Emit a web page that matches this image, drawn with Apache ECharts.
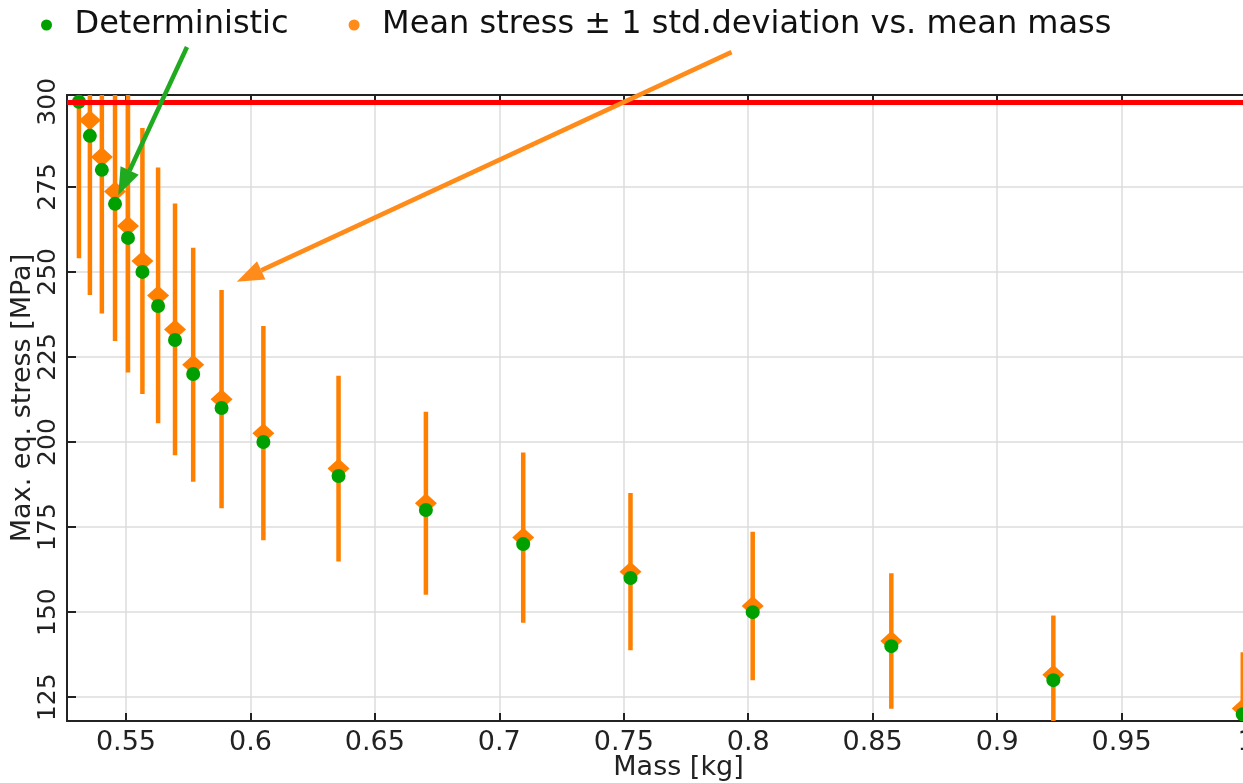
<!DOCTYPE html>
<html>
<head>
<meta charset="utf-8">
<script src="https://cdn.jsdelivr.net/npm/echarts@6/dist/echarts.min.js"></script>
<style>
  html, body { margin: 0; padding: 0; background: #fff; }
  #chart { width: 1243px; height: 783px; }
</style>
</head>
<body>
<div id="chart"></div>
<script>
// mass [kg] of each design
const mass = [0.5311, 0.5355, 0.5403, 0.5456, 0.5508, 0.5566, 0.5629, 0.5697, 0.5770, 0.5884,
  0.6052, 0.6354, 0.6705, 0.7096, 0.7527, 0.8018, 0.8575, 0.9226, 0.9987]
// deterministic max. eq. stress [MPa]
const detStress = [300, 290, 280, 270, 260, 250, 240, 230, 220, 210,
  200, 190, 180, 170, 160, 150, 140, 130, 120]
// mean stress and 1 std.deviation
const meanStress = [304, 294.6, 283.8, 273.6, 263.5, 253.2, 243.1, 233.1, 222.7, 212.6,
  202.6, 192.2, 182.0, 171.9, 161.9, 151.8, 141.5, 131.6, 121.7]
const stdStress = [50, 51.4, 46, 43.9, 43.1, 39.1, 37.6, 37, 34.4, 32.1,
  31.5, 27.3, 26.9, 25.0, 23.1, 21.8, 19.9, 17.4, 16.5]
// allowed stress
const stressLimit = 300
// tick labels
const xTicks = [0.55, 0.6, 0.65, 0.7, 0.75, 0.8, 0.85, 0.9, 0.95, 1]
const yTicks = [125, 150, 175, 200, 225, 250, 275, 300]
// annotation arrows [from, tip] in data units
const greenArrow = [[0.5745, 316.1], [0.5469, 272.6]]
const orangeArrow = [[0.7933, 314.6], [0.5945, 247.1]]

const fontFamily = 'DejaVu Sans'
const meanName = 'Mean stress ± 1 std.deviation vs. mean mass'

var chart = echarts.init(document.getElementById('chart'))

let detData = mass.map((m, i) => [m, detStress[i]])
let meanData = mass.map((m, i) => [m, meanStress[i]])
let barData = mass.map((m, i) => [m, meanStress[i] - stdStress[i], meanStress[i] + stdStress[i]])

function renderErrorBar(params, api) {
  let lo = api.coord([api.value(0), api.value(1)])
  let hi = api.coord([api.value(0), api.value(2)])
  let cs = params.coordSys
  return {
    type: 'line',
    shape: {x1: lo[0], y1: lo[1], x2: hi[0], y2: hi[1]},
    style: {stroke: '#ff7f00', lineWidth: 4.5},
    clipPath: {type: 'rect', shape: {x: cs.x, y: cs.y, width: cs.width, height: cs.height}}
  }
}

let option = {
  animation: false,
  textStyle: {fontFamily: fontFamily},
  legend: {
    left: 36,
    top: 4,
    itemWidth: 46,
    itemHeight: 11,
    itemGap: 60,
    textStyle: {fontSize: 32, color: '#111', fontFamily: fontFamily},
    data: [
      {name: 'Deterministic', icon: 'circle', itemStyle: {color: '#00a000'}},
      {name: meanName, icon: 'circle', itemStyle: {color: '#ff8c1a'}}
    ]
  },
  grid: {left: 67, top: 95, right: -3, bottom: 62, containLabel: false, outerBoundsMode: 'none'},
  xAxis: [{
    type: 'value',
    min: 0.5263,
    max: 1.0,
    name: 'Mass [kg]',
    nameLocation: 'middle',
    nameGap: 33,
    nameMoveOverlap: false,
    nameTextStyle: {fontSize: 27, color: '#222', padding: [0, 0, 0, 44]},
    axisLine: {show: true, lineStyle: {color: '#222', width: 2}},
    axisTick: {show: true, inside: true, length: 8, customValues: xTicks, lineStyle: {color: '#222', width: 2}},
    axisLabel: {customValues: xTicks, fontSize: 27, color: '#222', margin: 8},
    splitLine: {show: true, lineStyle: {color: '#dcdcdc', width: 1.5}}
  }, {
    type: 'value',
    position: 'top',
    min: 0.5263,
    max: 1.0,
    axisLine: {show: true, lineStyle: {color: '#222', width: 2}},
    axisTick: {show: true, inside: true, length: 5, customValues: xTicks, lineStyle: {color: '#222', width: 2}},
    axisLabel: {show: false},
    splitLine: {show: false}
  }],
  yAxis: {
    type: 'value',
    min: 118,
    max: 302,
    name: 'Max. eq. stress [MPa]',
    nameLocation: 'middle',
    nameRotate: 90,
    nameGap: 31,
    nameMoveOverlap: false,
    nameTextStyle: {fontSize: 27, color: '#222', padding: [0, 0, 0, 20]},
    axisLine: {show: true, lineStyle: {color: '#222', width: 2}},
    axisTick: {show: true, inside: true, length: 9, customValues: yTicks, lineStyle: {color: '#222', width: 2}},
    axisLabel: {customValues: yTicks, rotate: 90, fontSize: 25, color: '#222', margin: 6},
    splitLine: {show: true, lineStyle: {color: '#dcdcdc', width: 1.5}}
  },
  series: [
    {
      name: meanName,
      type: 'custom',
      renderItem: renderErrorBar,
      encode: {x: 0, y: [1, 2]},
      data: barData,
      clip: true,
      z: 2
    },
    {
      name: meanName,
      type: 'scatter',
      symbol: 'diamond',
      symbolSize: [22, 20],
      itemStyle: {color: '#ff7f00', opacity: 1},
      data: meanData,
      z: 3
    },
    {
      name: 'Deterministic',
      type: 'scatter',
      symbol: 'circle',
      symbolSize: 14,
      itemStyle: {color: '#00a000', opacity: 1},
      data: detData,
      z: 4
    },
    {
      // stress limit
      type: 'line',
      data: [],
      z: 5,
      markLine: {
        silent: true,
        animation: false,
        symbol: ['none', 'none'],
        label: {show: false},
        emphasis: {disabled: true},
        lineStyle: {color: '#ff0000', width: 5, type: 'solid'},
        data: [{yAxis: stressLimit}]
      }
    }
  ]
}
chart.setOption(option)

// annotation arrows, placed via the axes
function arrowGraphic(arrow, color) {
  let p0 = chart.convertToPixel({xAxisIndex: 0, yAxisIndex: 0}, arrow[0])
  let p1 = chart.convertToPixel({xAxisIndex: 0, yAxisIndex: 0}, arrow[1])
  let a = Math.atan2(p1[1] - p0[1], p1[0] - p0[0])
  let len = 27, half = 10
  let bx = p1[0] - len * Math.cos(a), by = p1[1] - len * Math.sin(a)
  let nx = -Math.sin(a) * half, ny = Math.cos(a) * half
  return [
    {type: 'line', z: 100, shape: {x1: p0[0], y1: p0[1], x2: bx, y2: by}, style: {stroke: color, lineWidth: 4.5}},
    {type: 'polygon', z: 100, shape: {points: [[p1[0], p1[1]], [bx + nx, by + ny], [bx - nx, by - ny]]}, style: {fill: color}}
  ]
}
chart.setOption({graphic: arrowGraphic(greenArrow, '#1faa1f').concat(arrowGraphic(orangeArrow, '#ff8c1a'))})
</script>
</body>
</html>
